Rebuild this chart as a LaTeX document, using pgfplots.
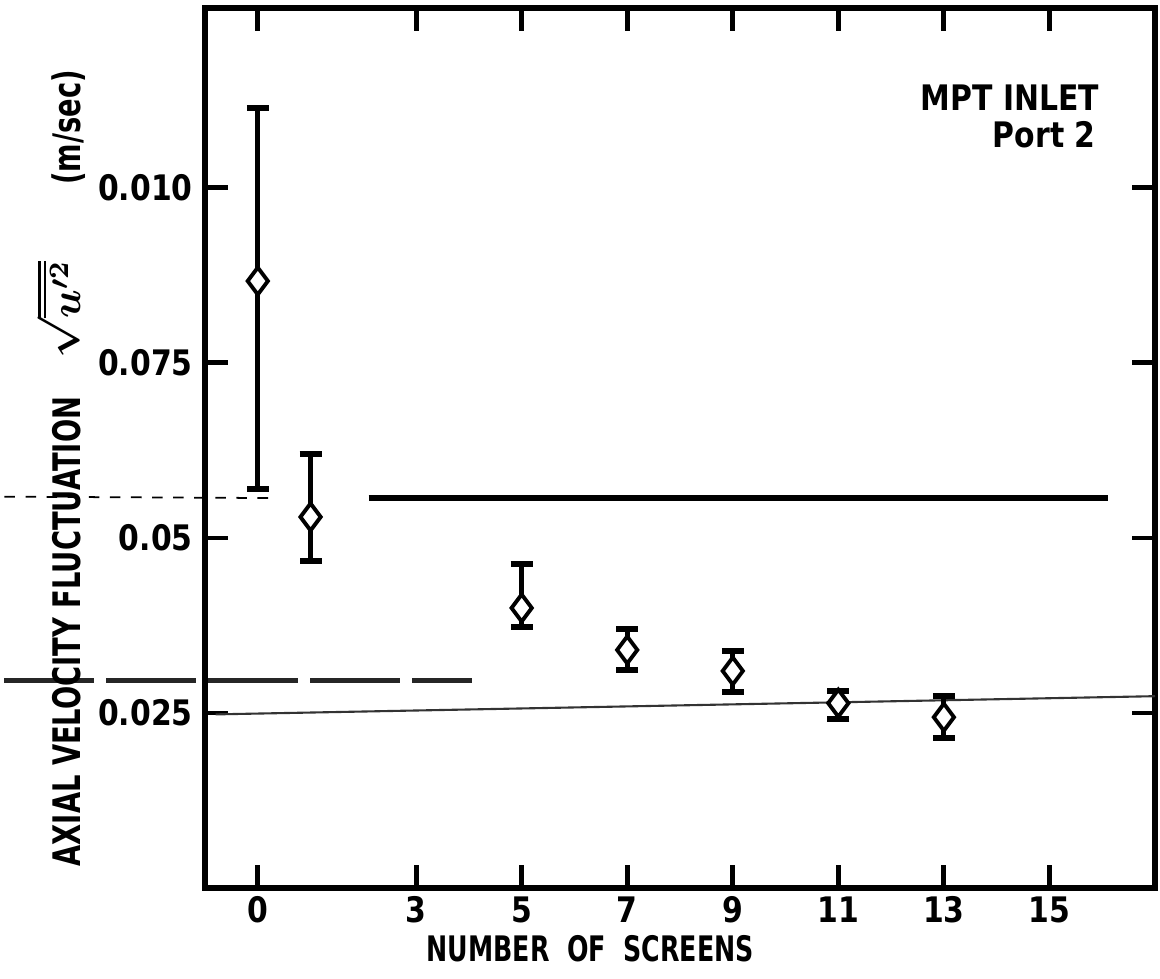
\documentclass[border=0pt]{standalone}
\usepackage{fontspec}
\setmainfont{DejaVu Sans}[FakeStretch=0.85]
\newfontfamily\narrow{DejaVu Sans}[FakeStretch=0.72]
\usepackage{pgfplots}
\pgfplotsset{compat=1.18}
\usepackage{pgfplotstable}

% x, y, upper and lower ends of the bars
\pgfplotstableread{
x   y       ep      em
0   0.0867  0.0247  0.0297
1   0.0530  0.0090  0.0063
5   0.0400  0.0063  0.0027
7   0.0340  0.0030  0.0029
9   0.0310  0.0029  0.0030
11  0.0264  0.0017  0.0023
13  0.0244  0.0030  0.0030
}\screens

\begin{document}
\begin{tikzpicture}
\path[use as bounding box] (-20.5mm,-9mm) rectangle (95.5mm,88.8mm);
\begin{axis}[
    scale only axis,
    width=95mm, height=88mm,
    xmin=-1, xmax=17,
    ymin=0, ymax=0.1257,
    axis line style={line width=1.7pt},
    tick style={line width=1.4pt, black},
    major tick length=2.3mm,
    tick align=inside,
    xtick={0,3,5,7,9,11,13,15},
    ytick={0.025,0.05,0.075,0.1},
    yticklabels={0.025,0.05,0.075,0.010},
    scaled y ticks=false,
    /pgf/number format/assume math mode=true,
    tick label style={font=\bfseries\fontsize{10}{11}\selectfont},
    xticklabel style={yshift=0.4mm},
    xlabel={NUMBER\ \ OF\ \ SCREENS},
    xlabel style={font=\narrow\bfseries\fontsize{10}{11}\selectfont, at={(axis cs:6.3,0)}, anchor=north, yshift=-3.5mm},
    ylabel={AXIAL VELOCITY FLUCTUATION\quad {\fontsize{12}{13}\selectfont\mathversion{bold}$\sqrt{\overline{u'^2}}$}\qquad (m/sec)},
    ylabel style={font=\narrow\bfseries\fontsize{10.8}{12}\selectfont, at={(axis description cs:-0.152,0.477)}, anchor=center},
    clip=false,
]
% faint lines from the scan
\addplot[black, line width=1.5pt] coordinates {(2.1,0.0557) (16.1,0.0557)};
\addplot[black, line width=0.5pt, dashed] coordinates {(-4.8,0.0559) (0.3,0.0557)};
\addplot[black!80, line width=0.6pt] coordinates {(-0.8,0.0248) (17,0.0274)};
\addplot[black!85, line width=1.3pt, dash pattern=on 9mm off 1.2mm] coordinates {(-4.8,0.0296) (4.05,0.0296)};

% bars
\addplot[only marks, mark=none, black,
    error bars/.cd, y dir=both, y explicit,
    error bar style={line width=1.4pt},
    error mark=-, error mark options={rotate=90, line width=1.8pt, mark size=1.1mm}]
    table[x=x, y=y, y error plus=ep, y error minus=em] {\screens};
% open diamonds
\addplot[only marks, mark=diamond*, mark size=1.35mm,
    mark options={fill=white, draw=black, line width=1.1pt}]
    table[x=x, y=y] {\screens};

\node[font=\bfseries\fontsize{10}{11}\selectfont] at (axis cs:14.25,0.1129) {MPT INLET};
\node[font=\bfseries\fontsize{10}{11}\selectfont] at (axis cs:14.9,0.1076) {Port 2};
\end{axis}
\end{tikzpicture}
\end{document}
